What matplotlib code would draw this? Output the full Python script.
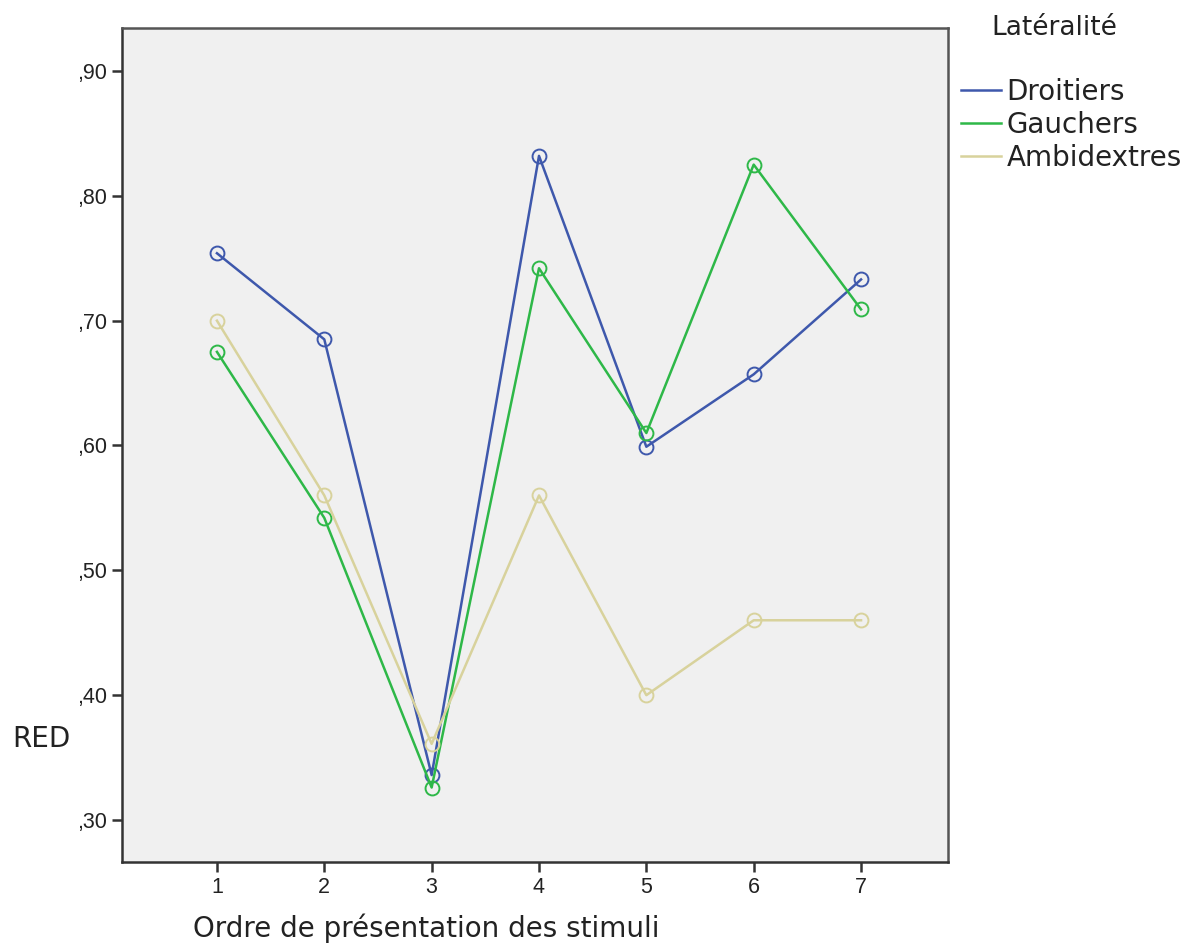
import numpy as np
import matplotlib.pyplot as plt
from matplotlib.ticker import FuncFormatter

ordre = [1, 2, 3, 4, 5, 6, 7]
droitiers = [0.754, 0.685, 0.336, 0.832, 0.599, 0.657, 0.733]
gauchers = [0.675, 0.542, 0.326, 0.742, 0.610, 0.825, 0.709]
ambidextres = [0.700, 0.560, 0.361, 0.560, 0.400, 0.460, 0.460]

series = ['Droitiers', 'Gauchers', 'Ambidextres']
couleurs = ['#3e58ac', '#2eb848', '#d8d29c']

fig = plt.figure(figsize=(11.92, 9.47), dpi=100)
ax = fig.add_axes([0.1023, 0.0898, 0.6930, 0.8806])
ax.set_facecolor('#f0f0f0')

for nom, vals, c in zip(series, [droitiers, gauchers, ambidextres], couleurs):
    ax.plot(ordre, vals, color=c, lw=1.8, marker='o', ms=10, mfc='none',
            mec=c, mew=1.4, label=nom)

ax.set_xlim(0.115, 7.81)
ax.set_ylim(0.2664, 0.9344)
ax.set_xticks(ordre)
ax.set_yticks([0.3, 0.4, 0.5, 0.6, 0.7, 0.8, 0.9])
ax.yaxis.set_major_formatter(FuncFormatter(lambda v, p: ('%.2f' % v).replace('0.', ',')))
ax.tick_params(direction='out', length=7, width=1.8, color='#333333',
               labelsize=15.5, labelcolor='#222222', pad=4)
for lab in ax.get_xticklabels() + ax.get_yticklabels():
    lab.set_family('Liberation Sans')
for s in ax.spines.values():
    s.set_color('#333333')
    s.set_linewidth(1.8)
ax.spines['top'].set_color('#555555')
ax.spines['right'].set_color('#555555')

fig.text(0.010, 0.220, 'RED', fontsize=20, color='#222222', va='center')
fig.text(0.162, 0.020, 'Ordre de présentation des stimuli', fontsize=20,
         color='#222222', va='center')

fig.text(0.832, 0.970, 'Latéralité', fontsize=19, color='#222222', va='center')
leg = ax.legend(loc='upper left', bbox_to_anchor=(0.806, 0.918),
                bbox_transform=fig.transFigure, frameon=False, fontsize=20,
                handlelength=1.45, handletextpad=0.2, labelspacing=0.18,
                borderpad=0, borderaxespad=0)
for h in leg.get_lines():
    h.set_marker('')
    h.set_linewidth(1.8)
for t in leg.get_texts():
    t.set_color('#222222')

fig.savefig('out.png', dpi=100)
